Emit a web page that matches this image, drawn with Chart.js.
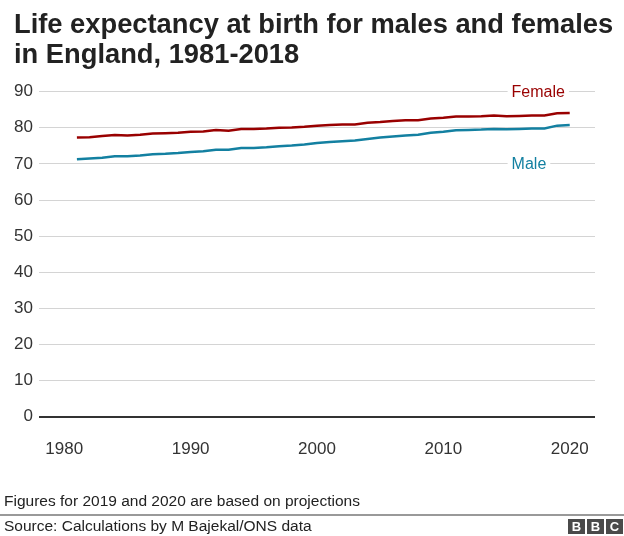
<!DOCTYPE html>
<html>
<head>
<meta charset="utf-8">
<script src="https://cdn.jsdelivr.net/npm/chart.js@4"></script>
<style>
  html, body { margin: 0; padding: 0; background: #fff; }
  body { width: 624px; height: 536px; position: relative; overflow: hidden; font-family: "Liberation Sans", Arial, sans-serif; }
  #chartWrap { position: absolute; left: 0; top: 0; width: 624px; height: 536px; }
  .title { position: absolute; left: 14px; top: 9px; font-size: 27.3px; line-height: 30px; font-weight: bold; color: #222; }
  .note { position: absolute; left: 4px; top: 492px; font-size: 15.5px; line-height: 18px; color: #222; }
  .rule { position: absolute; left: 0; top: 514px; width: 624px; height: 0; border-top: 2px solid #999; }
  .source { position: absolute; left: 4px; top: 517px; font-size: 15.5px; line-height: 18px; color: #222; }
  .bbc { position: absolute; left: 568px; top: 519px; display: flex; gap: 2px; }
  .bbc span { width: 17px; height: 15px; background: #4a4a4a; color: #fff; font-weight: bold; font-size: 13px; line-height: 15px; text-align: center; }
</style>
</head>
<body>
<div id="chartWrap"><canvas id="chart"></canvas></div>
<div class="title">Life expectancy at birth for males and females<br>in England, 1981-2018</div>
<div class="note">Figures for 2019 and 2020 are based on projections</div>
<div class="rule"></div>
<div class="source">Source: Calculations by M Bajekal/ONS data</div>
<div class="bbc"><span>B</span><span>B</span><span>C</span></div>
<script>
const years = [];
for (let y = 1981; y <= 2020; y++) years.push(y);

const femaleValues = [
  77.3, 77.4, 77.7, 78.0, 77.9, 78.1, 78.4, 78.5, 78.6, 78.9,
  79.0, 79.4, 79.2, 79.7, 79.7, 79.8, 80.0, 80.1, 80.3, 80.6,
  80.8, 80.9, 80.9, 81.4, 81.6, 81.9, 82.1, 82.1, 82.6, 82.8,
  83.1, 83.1, 83.2, 83.4, 83.2, 83.3, 83.4, 83.4, 84.0, 84.1
];
const maleValues = [
  71.3, 71.5, 71.7, 72.1, 72.1, 72.3, 72.7, 72.8, 73.0, 73.3,
  73.5, 73.9, 73.9, 74.4, 74.4, 74.6, 74.9, 75.1, 75.4, 75.8,
  76.1, 76.3, 76.5, 76.9, 77.3, 77.6, 77.9, 78.1, 78.6, 78.9,
  79.3, 79.4, 79.5, 79.7, 79.6, 79.7, 79.8, 79.8, 80.6, 80.8
];

const xTicks = [1980, 1990, 2000, 2010, 2020];
const seriesLabels = ["Female", "Male"];
const seriesColors = ["#990000", "#1380a1"];
// value on the y axis where each name sits (on a gridline)
const labelValues = [90, 70];

// series names sitting on a gridline, with a white gap behind
const lineLabels = {
  id: "lineLabels",
  afterDraw(chart) {
    const { ctx, scales } = chart;
    ctx.save();
    ctx.font = "16px 'Liberation Sans', Arial, sans-serif";
    ctx.textBaseline = "middle";
    seriesLabels.forEach((name, i) => {
      const x = scales.x.getPixelForValue(2015.4);
      const y = scales.y.getPixelForValue(labelValues[i]);
      const w = ctx.measureText(name).width;
      ctx.fillStyle = "#fff";
      ctx.fillRect(x - 4, y - 3, w + 8, 6);
      ctx.fillStyle = seriesColors[i];
      ctx.fillText(name, x, y + 1);
    });
    ctx.restore();
  }
};

const ctx = document.getElementById("chart").getContext("2d");
new Chart(ctx, {
  type: "line",
  data: {
    datasets: [
      {
        label: seriesLabels[0],
        data: years.map((yr, i) => ({ x: yr, y: femaleValues[i] })),
        borderColor: seriesColors[0],
        borderWidth: 2.5,
        pointRadius: 0,
        tension: 0,
        fill: false,
      },
      {
        label: seriesLabels[1],
        data: years.map((yr, i) => ({ x: yr, y: maleValues[i] })),
        borderColor: seriesColors[1],
        borderWidth: 2.5,
        pointRadius: 0,
        tension: 0,
        fill: false,
      },
    ],
  },
  options: {
    responsive: true,
    maintainAspectRatio: false,
    animation: false,
    layout: { padding: { top: 91.7, right: 29, bottom: 69.3, left: 0 } },
    plugins: {
      legend: { display: false },
      tooltip: { enabled: false },
    },
    scales: {
      x: {
        type: "linear",
        min: 1978,
        max: 2022,
        afterBuildTicks: (scale) => { scale.ticks = xTicks.map((v) => ({ value: v })); },
        afterFit: (scale) => { scale.height = 50; },
        grid: { display: false, drawTicks: false },
        border: { display: false },
        ticks: {
          padding: 22,
          color: "#333",
          font: { family: "'Liberation Sans', Arial, sans-serif", size: 17 },
          maxRotation: 0,
          callback: (v) => String(v),
        },
      },
      y: {
        min: 0,
        max: 90,
        afterFit: (scale) => { scale.width = 39; },
        grid: {
          drawTicks: false,
          color: (c) => (c.tick && c.tick.value === 0 ? "#333" : "#d4d4d4"),
          lineWidth: (c) => (c.tick && c.tick.value === 0 ? 2 : 1),
        },
        border: { display: false },
        ticks: {
          stepSize: 10,
          padding: 6,
          color: "#333",
          font: { family: "'Liberation Sans', Arial, sans-serif", size: 17 },
        },
      },
    },
  },
  plugins: [lineLabels],
});
</script>
</body>
</html>
